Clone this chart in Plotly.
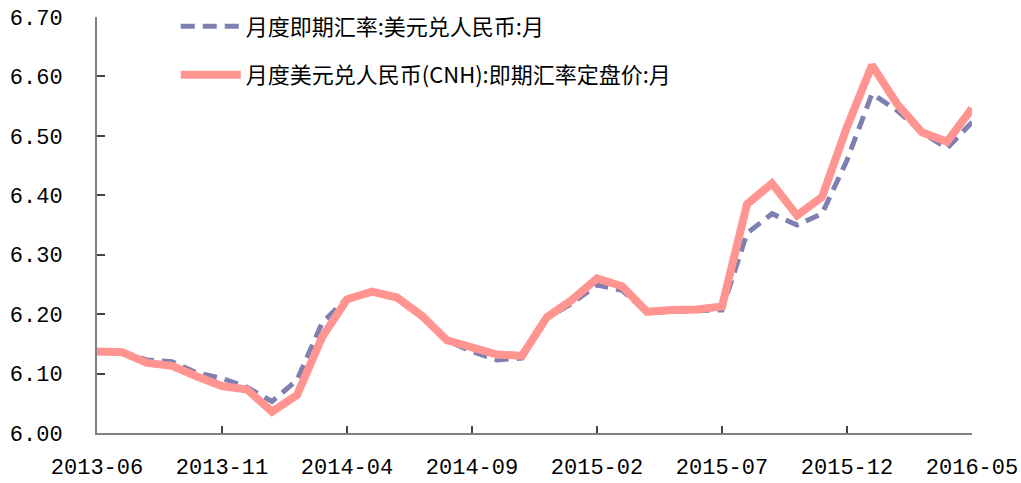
import plotly.graph_objects as go
import pandas as pd

months = [d.strftime("%Y-%m") for d in pd.date_range("2013-06-01", "2016-05-01", freq="MS")]

spot_rate = [6.137, 6.136, 6.123, 6.120, 6.101, 6.092, 6.077, 6.053, 6.089, 6.185,
             6.227, 6.238, 6.228, 6.197, 6.156, 6.137, 6.123, 6.126, 6.193, 6.218,
             6.249, 6.240, 6.203, 6.205, 6.207, 6.207, 6.336, 6.369, 6.350, 6.369,
             6.459, 6.571, 6.543, 6.506, 6.479, 6.523]

cnh_rate = [6.137, 6.136, 6.118, 6.113, 6.095, 6.079, 6.073, 6.036, 6.064, 6.161,
            6.225, 6.238, 6.228, 6.197, 6.156, 6.145, 6.132, 6.130, 6.195, 6.224,
            6.260, 6.247, 6.204, 6.207, 6.208, 6.213, 6.385, 6.420, 6.366, 6.397,
            6.515, 6.619, 6.554, 6.506, 6.490, 6.546]

name_spot = "月度即期汇率:美元兑人民币:月"
name_cnh = "月度美元兑人民币(CNH):即期汇率定盘价:月"

y_ticks = [6.0, 6.1, 6.2, 6.3, 6.4, 6.5, 6.6, 6.7]
y_ticktext = ["6.00", "6.10", "6.20", "6.30", "6.40", "6.50", "6.60", "6.70"]

cjk_font = "Noto Sans CJK SC"
num_font = "Liberation Mono"

fig = go.Figure()
fig.add_trace(go.Scatter(
    x=months, y=spot_rate, mode="lines", name=name_spot, legendgroup="a",
    line=dict(color="#7F80B2", width=5, dash="14px,8px"),
))
fig.add_trace(go.Scatter(
    x=months, y=cnh_rate, mode="lines", name=name_cnh, legendgroup="b",
    line=dict(color="#FF9490", width=8),
))

fig.update_layout(
    width=1021, height=483,
    margin=dict(l=97, r=49, t=17, b=50, autoexpand=False),
    paper_bgcolor="white", plot_bgcolor="white",
    font=dict(family=cjk_font, size=22, color="#000000"),
    showlegend=True,
    legend=dict(
        x=0.09, y=1.028, xanchor="left", yanchor="top",
        bgcolor="rgba(0,0,0,0)", font=dict(size=22, family=cjk_font, color="#000000"),
        tracegroupgap=17, itemwidth=60,
    ),
    xaxis=dict(
        type="category", range=[0, 35], automargin=False,
        tickmode="array", tickvals=months[::5], ticktext=months[::5],
        ticks="inside", ticklen=7, tickcolor="#444444", tickwidth=1.5,
        showline=True, linecolor="#808080", linewidth=2,
        showgrid=False, zeroline=False, ticklabelstandoff=13,
        tickfont=dict(size=22, family=num_font, color="#000000"),
    ),
    yaxis=dict(
        range=[6.0, 6.7], automargin=False,
        tickmode="array", tickvals=y_ticks, ticktext=y_ticktext,
        ticks="inside", ticklen=8, tickcolor="#444444", tickwidth=1.5,
        showline=True, linecolor="#808080", linewidth=2,
        showgrid=False, zeroline=False,
        ticklabelstandoff=28,
        tickfont=dict(size=22, family=num_font, color="#000000"),
    ),
)

fig.write_html("out.html", config={"displayModeBar": False},
               post_script="document.body.style.margin='0px';")
